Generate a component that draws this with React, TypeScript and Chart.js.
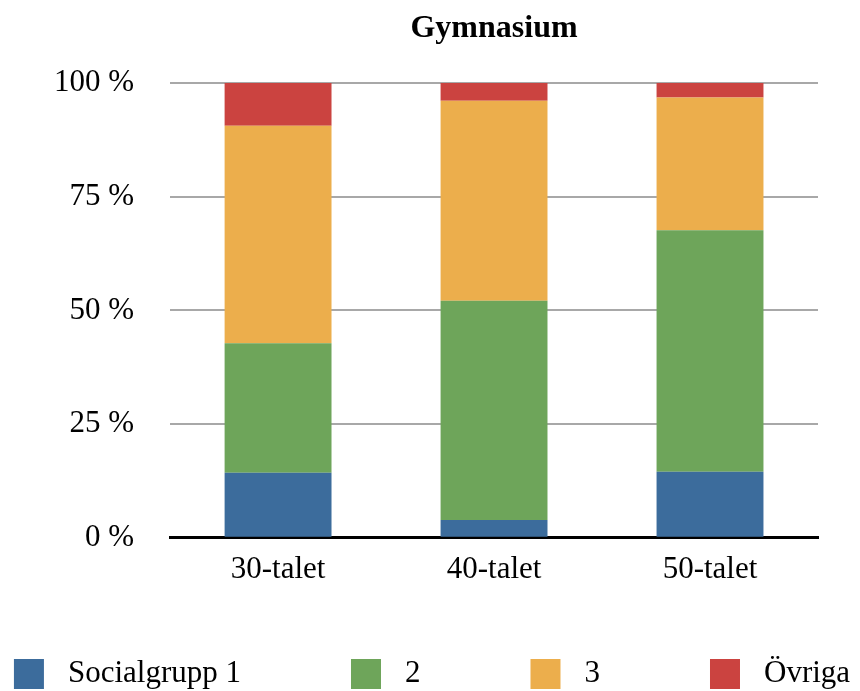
import React, { useEffect, useRef } from "react";
import { Chart, registerables } from "chart.js";

Chart.register(...registerables);

const categories = ["30-talet", "40-talet", "50-talet"];
const seriesNames = ["Socialgrupp 1", "2", "3", "Övriga"];
const group1 = [14.3, 3.9, 14.5];
const group2 = [28.5, 48.2, 53.1];
const group3 = [47.8, 44.0, 29.2];
const others = [9.4, 3.9, 3.2];
const yTicks = [0, 25, 50, 75, 100];
const colors = ["#3c6c9c", "#6ea55a", "#ecae4c", "#cb4340"];

const FONT = "'Liberation Serif', 'Times New Roman', serif";

const legendPlugin = {
  id: "customLegend",
  afterDraw(chart: any) {
    const ctx = chart.ctx as CanvasRenderingContext2D;
    const box = 30;
    const gapText = 24;
    const gapItem = 110;
    ctx.save();
    ctx.font = `31px ${FONT}`;
    const items = chart.data.datasets.map((ds: any) => ({
      text: ds.label as string,
      color: ds.backgroundColor as string,
      w: ctx.measureText(ds.label).width,
    }));
    const total =
      items.reduce((s: number, it: any) => s + box + gapText + it.w, 0) +
      gapItem * (items.length - 1);
    let x = (chart.width - total) / 2 + 2;
    const cy = 674;
    ctx.textBaseline = "middle";
    ctx.textAlign = "left";
    for (const it of items) {
      ctx.fillStyle = it.color;
      ctx.fillRect(x, cy - box / 2, box, box);
      ctx.fillStyle = "#000";
      ctx.fillText(it.text, x + box + gapText, cy);
      x += box + gapText + it.w + gapItem;
    }
    ctx.restore();
  },
};

export default function App() {
  const ref = useRef<HTMLCanvasElement>(null);
  useEffect(() => {
    if (!ref.current) return;
    const data = [group1, group2, group3, others];
    const chart = new Chart(ref.current, {
      type: "bar",
      data: {
        labels: categories,
        datasets: data.map((d, i) => ({
          label: seriesNames[i],
          data: d,
          backgroundColor: colors[i],
          borderWidth: 0,
          barPercentage: 0.495,
          categoryPercentage: 1,
        })),
      },
      options: {
        animation: false,
        responsive: true,
        maintainAspectRatio: false,
        layout: { padding: { left: 18, right: 42, top: 0, bottom: 90 } },
        plugins: {
          legend: { display: false },
          tooltip: { enabled: false },
          title: {
            display: true,
            text: "Gymnasium",
            fullSize: false,
            color: "#000",
            font: { family: FONT, size: 32, weight: "bold" },
            padding: { top: 10, bottom: 34.6 },
          },
        },
        scales: {
          x: {
            stacked: true,
            grid: { display: false, drawTicks: false },
            border: { display: true, color: "#000", width: 3 },
            ticks: {
              color: "#000",
              font: { family: FONT, size: 31 },
              padding: 13,
            },
          },
          y: {
            stacked: true,
            min: 0,
            max: 100,
            afterBuildTicks: (scale: any) => {
              scale.ticks = yTicks.map((v) => ({ value: v }));
            },
            grid: {
              drawTicks: false,
              lineWidth: 2,
              color: (c: any) => (c.tick && c.tick.value === 0 ? "rgba(0,0,0,0)" : "#a8a8a8"),
            },
            border: { display: false },
            ticks: {
              color: "#000",
              font: { family: FONT, size: 31 },
              padding: 36,
              callback: (v: any) => `${v} %`,
            },
          },
        },
      },
      plugins: [legendPlugin],
    });
    return () => chart.destroy();
  }, []);
  return (
    <div style={{ position: "fixed", left: 0, top: 0, width: 860, height: 691, background: "#fff" }}>
      <canvas ref={ref} />
    </div>
  );
}
